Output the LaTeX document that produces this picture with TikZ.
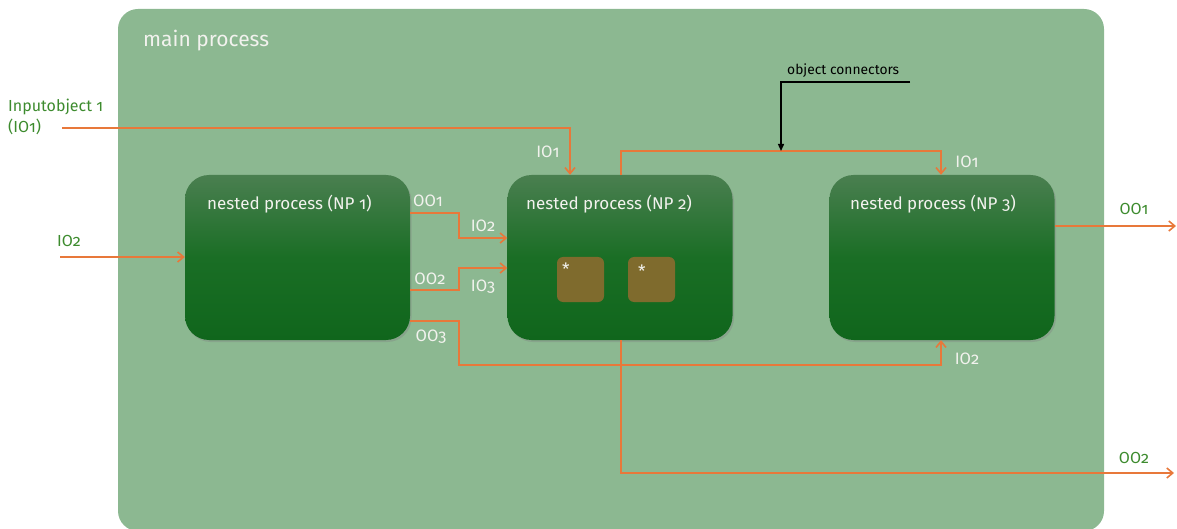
\documentclass[tikz,border=0pt]{standalone}
\usepackage{fontspec}
\setmainfont{Fira Sans}[Numbers=OldStyle]
\usetikzlibrary{arrows.meta,shadows,calc}

\definecolor{mainbg}{HTML}{8CB891}
\definecolor{nptop}{HTML}{4A7F50}
\definecolor{npmid}{HTML}{1A6E25}
\definecolor{npbot}{HTML}{10661C}
\definecolor{slot}{HTML}{7F6B2D}
\definecolor{wire}{HTML}{E8783A}
\definecolor{extlabel}{HTML}{3D8B2E}
\definecolor{inlabel}{HTML}{F2F2EE}

\tikzset{
  mainbox/.style={fill=mainbg, rounded corners=20pt, minimum width=986pt,
    minimum height=522pt, inner sep=0pt, draw=none},
  npbox/.style={rounded corners=24pt, minimum width=225pt, minimum height=165pt,
    inner sep=0pt, top color=nptop, bottom color=npbot, middle color=npmid,
    drop shadow={opacity=0.35, shadow xshift=1.5pt, shadow yshift=-2pt}},
  slotbox/.style={fill=slot, rounded corners=6pt, minimum width=47pt,
    minimum height=45pt, inner sep=0pt},
  wire/.style={draw=wire, line width=1.6pt, -{Straight Barb[length=6pt,width=10pt,line width=1.6pt]}},
  pointer/.style={draw=black, line width=1.4pt, -{Triangle[length=7pt,width=6pt]}},
  inl/.style={text=inlabel, font=\fontsize{16.5}{18}\selectfont, inner sep=0pt},
  extl/.style={text=extlabel, font=\fontsize{16}{21}\selectfont, inner sep=0pt, align=left},
  title/.style={text=inlabel, font=\fontsize{17}{19}\selectfont, inner sep=0pt, anchor=west},
}

\begin{document}
\begin{tikzpicture}[x=1pt,y=-1pt]
  \useasboundingbox (0,0) rectangle (1177,529);

  % main process container
  \node[mainbox] (main) at (611,270) {};
  \node[text=inlabel, font=\fontsize{21}{23}\selectfont, anchor=west, inner sep=0pt]
    (maintitle) at (143,41) {main process};

  % nested processes
  \node[npbox] (np1) at (297.5,257.5) {};
  \node[npbox] (np2) at (620,257.5) {};
  \node[npbox] (np3) at (942,257.5) {};
  \node[title] (t1) at (207,204) {nested process (NP 1)};
  \node[title] (t2) at (526,204) {nested process (NP 2)};
  \node[title] (t3) at (850,204) {nested process (NP 3)};

  % object slots inside NP 2
  \node[slotbox] (s1) at (580.5,279.5) {};
  \node[slotbox] (s2) at (651.5,279.5) {};
  \node[text=inlabel, font=\fontsize{17}{17}\selectfont, inner sep=0pt] (st1) at ([xshift=9pt,yshift=-12pt]s1.north west) {*};
  \node[text=inlabel, font=\fontsize{17}{17}\selectfont, inner sep=0pt] (st2) at ([xshift=14pt,yshift=-14pt]s2.north west) {*};

  % external inputs and outputs
  \coordinate (in1) at (62,128);
  \coordinate (in2) at (60,257);
  \coordinate (out1) at (1176,226);
  \coordinate (out2) at (1174,473);
  \node[extl, anchor=north west] (lin1) at (8,99) {Inputobject 1\\(IO1)};
  \node[extl] (lin2) at (69,241) {IO2};
  \node[extl] (lout1) at (1134,209) {OO1};
  \node[extl] (lout2) at (1134,458) {OO2};

  % connectors
  \draw[wire] (in1) -| ([xshift=-50pt]np2.north);
  \draw[wire] (in2) -- (in2 -| np1.west);
  \draw[wire] ([yshift=44.5pt]np1.east) -- ++(49,0) |- ([yshift=19.5pt]np2.west);
  \draw[wire] ([yshift=-32.5pt]np1.east) -- ++(49,0) |- ([yshift=-10.5pt]np2.west);
  \draw[wire] ([yshift=-63.5pt]np1.east) -- ++(49,0) -- ++(0,44) -| ([xshift=-1pt]np3.south);
  \draw[wire] ([xshift=1pt]np2.north) -- ++(0,-24) -| ([xshift=-1pt]np3.north);
  \draw[wire] ([xshift=1pt]np2.south) |- (out2);
  \draw[wire] ([yshift=31.5pt]np3.east) -- (out1);

  % connector labels
  \node[inl] (a1) at (548,152) {IO1};
  \node[inl] (a2) at (428,201) {OO1};
  \node[inl] (a3) at (483,226) {IO2};
  \node[inl] (a4) at (430,279) {OO2};
  \node[inl] (a5) at (483,287) {IO3};
  \node[inl] (a6) at (431,337) {OO3};
  \node[inl] (a7) at (967,162) {IO1};
  \node[inl] (a8) at (967,359) {IO2};

  % annotation
  \node[text=black, font=\fontsize{13.8}{16}\selectfont, inner sep=0pt, anchor=west]
    (oclabel) at (787,71) {object connectors};
  \coordinate (ocstart) at (910,82);
  \coordinate (ocend) at (781,151);
  \draw[pointer] (ocstart) -| (ocend);
\end{tikzpicture}
\end{document}
